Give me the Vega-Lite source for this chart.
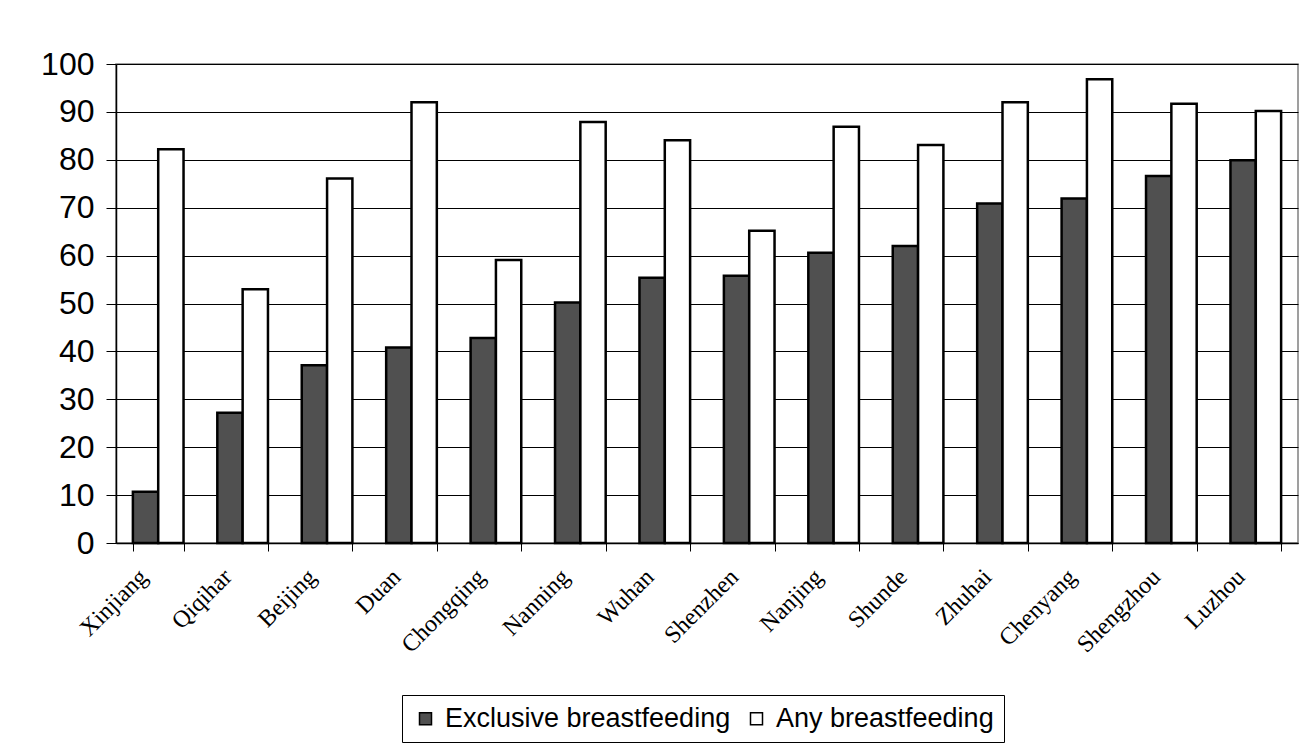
{
  "$schema": "https://vega.github.io/schema/vega-lite/v6.json",
  "autosize": {"type": "none"},
  "width": 1182,
  "height": 479,
  "padding": {"left": 116, "top": 64, "right": 9, "bottom": 206},
  "background": "white",
  "config": {
    "view": {"stroke": "#808080", "strokeWidth": 1.5},
    "axis": {"domainColor": "black", "tickColor": "black", "gridColor": "black", "gridOpacity": 1, "gridWidth": 1}
  },
  "data": {
    "values": [
      {"city": "Xinjiang", "type": "Exclusive breastfeeding", "value": 10.7},
      {"city": "Xinjiang", "type": "Any breastfeeding", "value": 82.2},
      {"city": "Qiqihar", "type": "Exclusive breastfeeding", "value": 27.2},
      {"city": "Qiqihar", "type": "Any breastfeeding", "value": 53.0},
      {"city": "Beijing", "type": "Exclusive breastfeeding", "value": 37.1},
      {"city": "Beijing", "type": "Any breastfeeding", "value": 76.1},
      {"city": "Duan", "type": "Exclusive breastfeeding", "value": 40.8},
      {"city": "Duan", "type": "Any breastfeeding", "value": 92.0},
      {"city": "Chongqing", "type": "Exclusive breastfeeding", "value": 42.8},
      {"city": "Chongqing", "type": "Any breastfeeding", "value": 59.1},
      {"city": "Nanning", "type": "Exclusive breastfeeding", "value": 50.2},
      {"city": "Nanning", "type": "Any breastfeeding", "value": 87.9},
      {"city": "Wuhan", "type": "Exclusive breastfeeding", "value": 55.4},
      {"city": "Wuhan", "type": "Any breastfeeding", "value": 84.1},
      {"city": "Shenzhen", "type": "Exclusive breastfeeding", "value": 55.8},
      {"city": "Shenzhen", "type": "Any breastfeeding", "value": 65.2},
      {"city": "Nanjing", "type": "Exclusive breastfeeding", "value": 60.6},
      {"city": "Nanjing", "type": "Any breastfeeding", "value": 86.9},
      {"city": "Shunde", "type": "Exclusive breastfeeding", "value": 62.0},
      {"city": "Shunde", "type": "Any breastfeeding", "value": 83.1},
      {"city": "Zhuhai", "type": "Exclusive breastfeeding", "value": 70.9},
      {"city": "Zhuhai", "type": "Any breastfeeding", "value": 92.0},
      {"city": "Chenyang", "type": "Exclusive breastfeeding", "value": 71.9},
      {"city": "Chenyang", "type": "Any breastfeeding", "value": 96.8},
      {"city": "Shengzhou", "type": "Exclusive breastfeeding", "value": 76.6},
      {"city": "Shengzhou", "type": "Any breastfeeding", "value": 91.7},
      {"city": "Luzhou", "type": "Exclusive breastfeeding", "value": 79.9},
      {"city": "Luzhou", "type": "Any breastfeeding", "value": 90.2}
    ]
  },
  "mark": {"type": "bar", "stroke": "black", "strokeWidth": 2.5},
  "encoding": {
    "x": {
      "field": "city",
      "type": "nominal",
      "sort": null,
      "scale": {"paddingInner": 0.4, "paddingOuter": 0.2},
      "axis": {
        "title": null,
        "labelAngle": -45,
        "labelFont": "Liberation Serif",
        "labelFontSize": 24,
        "labelColor": "black",
        "labelPadding": 22,
        "labelOffset": -15,
        "labelAlign": "right",
        "labelBaseline": "middle",
        "labelLimit": 0,
        "tickBand": "extent",
        "tickSize": 8,
        "domainWidth": 1.5,
        "grid": false
      }
    },
    "xOffset": {
      "field": "type",
      "type": "nominal",
      "scale": {"domain": ["Exclusive breastfeeding", "Any breastfeeding"]}
    },
    "y": {
      "field": "value",
      "type": "quantitative",
      "scale": {"domain": [0, 100], "nice": false},
      "axis": {
        "title": null,
        "values": [0, 10, 20, 30, 40, 50, 60, 70, 80, 90, 100],
        "labelFont": "Liberation Sans",
        "labelFontSize": 32,
        "labelColor": "black",
        "labelPadding": 12,
        "tickSize": 10,
        "domainWidth": 1.5,
        "grid": true
      }
    },
    "fill": {
      "field": "type",
      "type": "nominal",
      "scale": {"domain": ["Exclusive breastfeeding", "Any breastfeeding"], "range": ["#505050", "#ffffff"]},
      "legend": {
        "title": null,
        "orient": "none",
        "legendX": 286,
        "legendY": 631,
        "direction": "horizontal",
        "strokeColor": "black",
        "padding": 10,
        "labelFont": "Liberation Sans",
        "labelFontSize": 27,
        "labelColor": "black",
        "labelLimit": 0,
        "labelOffset": 6,
        "columnPadding": 12,
        "symbolType": "square",
        "symbolSize": 144,
        "symbolStrokeColor": "black",
        "symbolStrokeWidth": 1.5
      }
    }
  }
}
